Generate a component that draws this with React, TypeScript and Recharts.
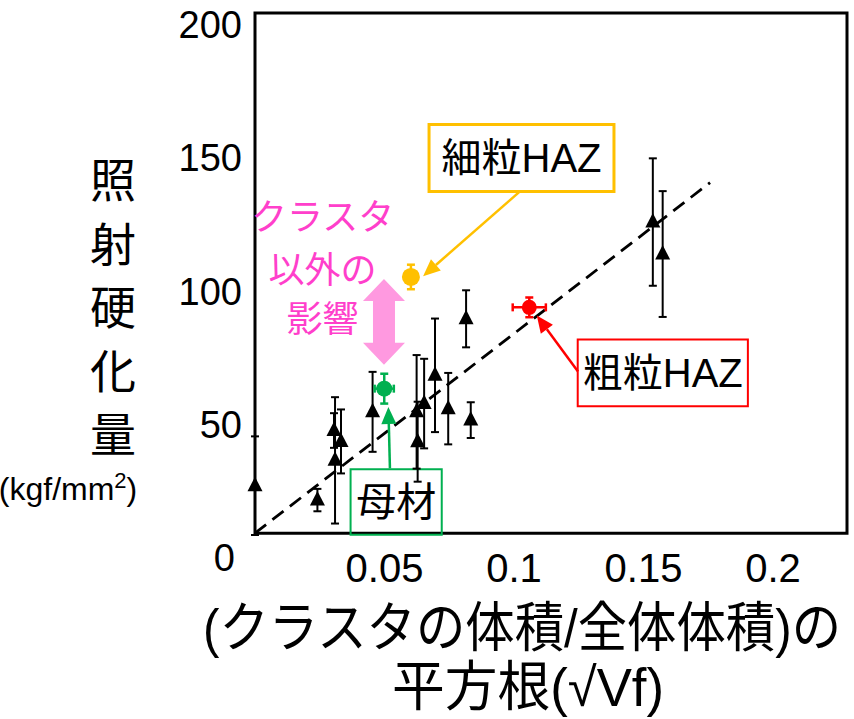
import React from 'react';
import {
  ScatterChart,
  Scatter,
  XAxis,
  YAxis,
  ErrorBar,
  ReferenceArea,
  ReferenceLine,
  ReferenceDot,
} from 'recharts';

const SANS = '"Liberation Sans", Arial, "Noto Sans CJK JP", sans-serif';
const JP = '"Noto Sans CJK JP", "Liberation Sans", sans-serif';
const MIXED = '"Liberation Sans", "Noto Sans CJK JP", sans-serif';

// Irradiated specimens: square root of cluster volume fraction vs. hardening
const VF_ROOT = [0, 0.0241, 0.0305, 0.0332, 0.0309, 0.0454, 0.0624, 0.0628, 0.0653, 0.0695, 0.0746, 0.0833, 0.0815, 0.1536, 0.1574];
const HARDENING = [17.8, 12.4, 38.5, 34.4, 27.3, 45.5, 45.5, 34.3, 48.6, 59.2, 46.7, 42.4, 80.4, 116.7, 104.7];
const HARDENING_ERR = [18.5, 4.2, 6.5, 12, 23.7, 15, 21.3, 15, 16.8, 21.3, 13.4, 6.7, 10.7, 23.9, 23.6];

// Weld zones: fine-grain HAZ, coarse-grain HAZ, base metal
const ZONE_NAMES = ['細粒HAZ', '粗粒HAZ', '母材'];
const ZONE_COLORS = ['#FFC000', '#FF0000', '#00B050'];
const ZONE_X = [0.0602, 0.1059, 0.0499];
const ZONE_Y = [96.1, 84.7, 54.2];
const ZONE_YERR = [4.6, 3.7, 5.6];
const ZONE_XERR = [0, 0.0064, 0.0037];
const ZONE_R = [9, 7.5, 8];

// Callout boxes [x1, x2, y1, y2] and arrows [from, to] in data units
const ZONE_BOX = [
  [0.0672, 0.1386, 128.2, 153.3],
  [0.1246, 0.1903, 47.6, 72.6],
  [0.0369, 0.0721, -0.6, 24.0],
];
const ZONE_ARROW = [
  [[0.1023, 128.2], [0.0649, 96.4]],
  [[0.1247, 60.6], [0.1088, 81.6]],
  [[0.0521, 24.3], [0.0515, 47.3]],
];
const ZONE_BOX_STROKE = [3, 2, 2];

// Linear fit through the origin
const FIT_X = [0, 0.1757];
const FIT_Y = [0, 131.5];

// Gap between base metal and fine HAZ
const GAP_X = 0.0498;
const GAP_Y = [95.3, 63.2];
const GAP_NOTE = ['クラスタ', '以外の', '影響'];
const GAP_NOTE_POS = [0.0261, 100];

const X_TICKS = [0.05, 0.1, 0.15, 0.2];
const Y_TICKS = [0, 50, 100, 150, 200];
const X_MAX = 0.22857;
const FRAME_TOP = 195.1;

const Y_TITLE = ['照', '射', '硬', '化', '量'];

const triangles = VF_ROOT.map((x, i) => ({ x, y: HARDENING[i], err: HARDENING_ERR[i] }));

const Triangle = (p: any) => {
  const { cx, cy } = p;
  if (cx == null || cy == null) return null;
  return (
    <polygon
      points={`${cx},${cy - 9} ${cx - 7.5},${cy + 5.5} ${cx + 7.5},${cy + 5.5}`}
      fill="#000"
    />
  );
};

const makeCircle = (color: string, r: number) => (p: any) => {
  if (p.cx == null || p.cy == null) return null;
  return <circle cx={p.cx} cy={p.cy} r={r} fill={color} />;
};

const makeArrow = (color: string, w: number) => (p: any) => {
  const { x1, y1, x2, y2 } = p;
  const dx = x2 - x1;
  const dy = y2 - y1;
  const len = Math.hypot(dx, dy) || 1;
  const ux = dx / len;
  const uy = dy / len;
  const hl = 17;
  const hw = 7.5;
  const bx = x2 - ux * hl;
  const by = y2 - uy * hl;
  return (
    <g>
      <line x1={x1} y1={y1} x2={bx} y2={by} stroke={color} strokeWidth={w} />
      <polygon
        points={`${x2},${y2} ${bx - uy * hw},${by + ux * hw} ${bx + uy * hw},${by - ux * hw}`}
        fill={color}
      />
    </g>
  );
};

const DoubleArrow = (p: any) => {
  const { x1, y1, y2 } = p;
  const top = Math.min(y1, y2);
  const bot = Math.max(y1, y2);
  const hh = 21;
  const sh = 11;
  const hl = 22;
  const pts = [
    [x1, top],
    [x1 + hh, top + hl],
    [x1 + sh, top + hl],
    [x1 + sh, bot - hl],
    [x1 + hh, bot - hl],
    [x1, bot],
    [x1 - hh, bot - hl],
    [x1 - sh, bot - hl],
    [x1 - sh, top + hl],
    [x1 - hh, top + hl],
  ]
    .map((q) => q.join(','))
    .join(' ');
  return <polygon points={pts} fill="#FF99E0" />;
};

const GapNote = (p: any) => {
  const { cx, cy } = p;
  if (cx == null || cy == null) return null;
  const offs = [-52.5, 0, 49];
  return (
    <g>
      {GAP_NOTE.map((t, i) => (
        <text
          key={t}
          x={cx}
          y={cy + offs[i]}
          textAnchor="middle"
          dominantBaseline="central"
          fontFamily={JP}
          fontSize={36}
          fill="#FF3FCB"
        >
          {t}
        </text>
      ))}
    </g>
  );
};

const YTick = (p: any) => {
  const v = p.payload.value;
  return (
    <text
      x={v === 0 ? p.x - 20 : p.x - 13}
      y={p.y + 38}
      textAnchor="end"
      fontFamily={SANS}
      fontSize={38}
      fill="#000"
    >
      {v}
    </text>
  );
};

const XTick = (p: any) => (
  <text
    x={p.x}
    y={p.y + 47}
    textAnchor="middle"
    fontFamily={SANS}
    fontSize={40}
    fill="#000"
  >
    {p.payload.value}
  </text>
);

const renderYTitle = () => (
  <g>
    {Y_TITLE.map((c, i) => (
      <text
        key={c}
        x={113}
        y={177 + i * 63.5}
        textAnchor="middle"
        dominantBaseline="central"
        fontFamily={JP}
        fontSize={46}
        fill="#000"
      >
        {c}
      </text>
    ))}
    <text x={68} y={500} textAnchor="middle" fontFamily={SANS} fontSize={32} fill="#000">
      (kgf/mm
      <tspan dy={-12} fontSize={22}>
        2
      </tspan>
      <tspan dy={12}>)</tspan>
    </text>
  </g>
);

const renderXTitle = () => (
  <g>
    <text
      x={522}
      y={628}
      textAnchor="middle"
      dominantBaseline="central"
      fontFamily={MIXED}
      fontSize={54}
      textLength={638}
      lengthAdjust="spacingAndGlyphs"
      fill="#000"
    >
      (クラスタの体積/全体体積)の
    </text>
    <text
      x={528}
      y={687}
      textAnchor="middle"
      dominantBaseline="central"
      fontFamily={MIXED}
      fontSize={54}
      textLength={272}
      lengthAdjust="spacingAndGlyphs"
      fill="#000"
    >
      平方根(√Vf)
    </text>
  </g>
);

export default function App() {
  return (
    <div style={{ position: 'fixed', top: 0, left: 0, background: '#fff' }}>
      <ScatterChart
        width={854}
        height={719}
        margin={{ top: 0, right: 7, bottom: 124, left: 0 }}
      >
        <XAxis
          type="number"
          dataKey="x"
          domain={[0, X_MAX]}
          ticks={X_TICKS}
          axisLine={false}
          tickLine={false}
          tickSize={0}
          tickMargin={0}
          height={60}
          tick={<XTick />}
          interval={0}
          label={renderXTitle}
        />
        <YAxis
          type="number"
          dataKey="y"
          domain={[0, 200]}
          ticks={Y_TICKS}
          axisLine={false}
          tickLine={false}
          tickSize={0}
          tickMargin={0}
          width={255}
          tick={<YTick />}
          interval={0}
          label={renderYTitle}
        />

        {/* plot frame */}
        <ReferenceArea
          x1={0}
          x2={X_MAX}
          y1={0}
          y2={FRAME_TOP}
          fill="none"
          fillOpacity={0}
          stroke="#000"
          strokeWidth={3}
          ifOverflow="visible"
        />

        {/* fit line */}
        <ReferenceLine
          segment={[
            { x: FIT_X[0], y: FIT_Y[0] },
            { x: FIT_X[1], y: FIT_Y[1] },
          ]}
          stroke="#000"
          strokeWidth={2.8}
          strokeDasharray="14 8"
          ifOverflow="visible"
        />

        {/* double arrow between base metal and fine HAZ */}
        <ReferenceLine
          segment={[
            { x: GAP_X, y: GAP_Y[0] },
            { x: GAP_X, y: GAP_Y[1] },
          ]}
          shape={DoubleArrow}
          ifOverflow="visible"
        />
        <ReferenceDot
          x={GAP_NOTE_POS[0]}
          y={GAP_NOTE_POS[1]}
          r={0}
          shape={GapNote}
          ifOverflow="visible"
        />

        {/* zone callouts */}
        {ZONE_NAMES.map((name, i) => (
          <ReferenceArea
            key={`box-${name}`}
            x1={ZONE_BOX[i][0]}
            x2={ZONE_BOX[i][1]}
            y1={ZONE_BOX[i][2]}
            y2={ZONE_BOX[i][3]}
            fill="none"
            fillOpacity={0}
            stroke={ZONE_COLORS[i]}
            strokeWidth={ZONE_BOX_STROKE[i]}
            ifOverflow="visible"
            label={{
              value: name,
              position: 'center',
              fill: '#000',
              fontSize: 40,
              fontFamily: MIXED,
            }}
          />
        ))}
        {ZONE_NAMES.map((name, i) => (
          <ReferenceLine
            key={`arrow-${name}`}
            segment={[
              { x: ZONE_ARROW[i][0][0], y: ZONE_ARROW[i][0][1] },
              { x: ZONE_ARROW[i][1][0], y: ZONE_ARROW[i][1][1] },
            ]}
            shape={makeArrow(ZONE_COLORS[i], 2.5)}
            ifOverflow="visible"
          />
        ))}

        <Scatter data={triangles} shape={Triangle} isAnimationActive={false}>
          <ErrorBar
            dataKey="err"
            direction="y"
            width={4}
            stroke="#000"
            strokeWidth={2}
            isAnimationActive={false}
          />
        </Scatter>

        {ZONE_NAMES.map((name, i) => (
          <Scatter
            key={`zone-${name}`}
            data={[{ x: ZONE_X[i], y: ZONE_Y[i], err: ZONE_YERR[i], xerr: ZONE_XERR[i] }]}
            shape={makeCircle(ZONE_COLORS[i], ZONE_R[i])}
            isAnimationActive={false}
          >
            <ErrorBar
              dataKey="err"
              direction="y"
              width={4}
              stroke={ZONE_COLORS[i]}
              strokeWidth={2.5}
              isAnimationActive={false}
            />
            {ZONE_XERR[i] > 0 ? (
              <ErrorBar
                dataKey="xerr"
                direction="x"
                width={4}
                stroke={ZONE_COLORS[i]}
                strokeWidth={2.5}
                isAnimationActive={false}
              />
            ) : null}
          </Scatter>
        ))}
      </ScatterChart>
    </div>
  );
}
